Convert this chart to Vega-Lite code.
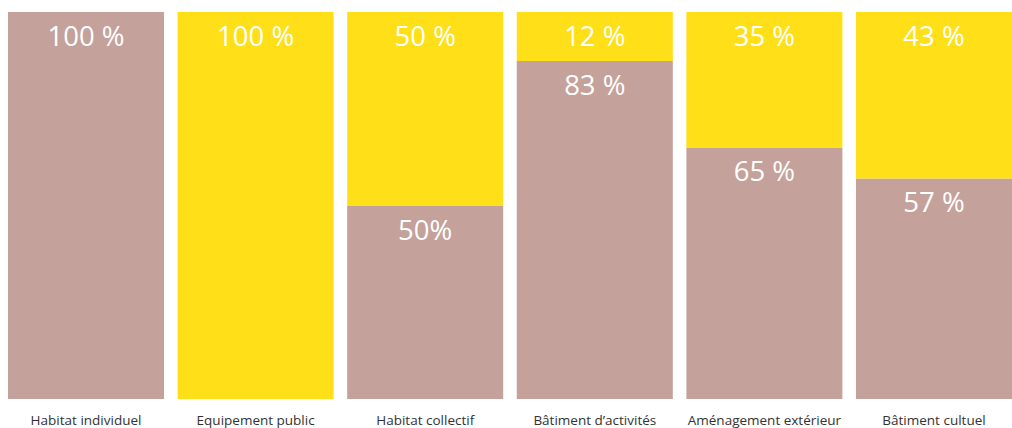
{
  "$schema": "https://vega.github.io/schema/vega-lite/v6.json",
  "width": 1004,
  "height": 387,
  "autosize": {"type": "none"},
  "padding": {"left": 8, "right": 0, "top": 12, "bottom": 29},
  "background": "white",
  "config": {"view": {"stroke": null}},
  "data": {
    "values": [
      {"cat": "Habitat individuel", "serie": "Série 1", "value": 100, "label": "100 %"},
      {"cat": "Equipement public", "serie": "Série 2", "value": 100, "label": "100 %"},
      {"cat": "Habitat collectif", "serie": "Série 1", "value": 50, "label": "50%"},
      {"cat": "Habitat collectif", "serie": "Série 2", "value": 50, "label": "50 %"},
      {"cat": "Bâtiment d’activités", "serie": "Série 1", "value": 83, "label": "83 %"},
      {"cat": "Bâtiment d’activités", "serie": "Série 2", "value": 12, "label": "12 %"},
      {"cat": "Aménagement extérieur", "serie": "Série 1", "value": 65, "label": "65 %"},
      {"cat": "Aménagement extérieur", "serie": "Série 2", "value": 35, "label": "35 %"},
      {"cat": "Bâtiment cultuel", "serie": "Série 1", "value": 57, "label": "57 %"},
      {"cat": "Bâtiment cultuel", "serie": "Série 2", "value": 43, "label": "43 %"}
    ]
  },
  "transform": [
    {"stack": "value", "groupby": ["cat"], "sort": [{"field": "serie", "order": "ascending"}], "offset": "normalize", "as": ["y0", "y1"]}
  ],
  "encoding": {
    "x": {
      "field": "cat",
      "type": "nominal",
      "sort": null,
      "scale": {"paddingInner": 0.08, "paddingOuter": 0},
      "axis": {
        "title": null,
        "labelAngle": 0,
        "domain": false,
        "ticks": false,
        "tickSize": 0,
        "labelFont": "Open Sans",
        "labelFontSize": 13.5,
        "labelColor": "#333333",
        "labelBaseline": "alphabetic",
        "labelPadding": 25
      }
    }
  },
  "layer": [
    {
      "mark": {"type": "bar"},
      "encoding": {
        "y": {"field": "y1", "type": "quantitative", "scale": {"domain": [0, 1]}, "axis": null},
        "y2": {"field": "y0"},
        "color": {
          "field": "serie",
          "type": "nominal",
          "scale": {"domain": ["Série 1", "Série 2"], "range": ["#c4a29b", "#ffdf17"]},
          "legend": null
        }
      }
    },
    {
      "mark": {"type": "text", "font": "Open Sans", "fontSize": 27.5, "color": "white", "baseline": "alphabetic", "dy": 34, "align": "center"},
      "encoding": {
        "y": {"field": "y1", "type": "quantitative", "scale": {"domain": [0, 1]}},
        "text": {"field": "label"}
      }
    }
  ]
}
